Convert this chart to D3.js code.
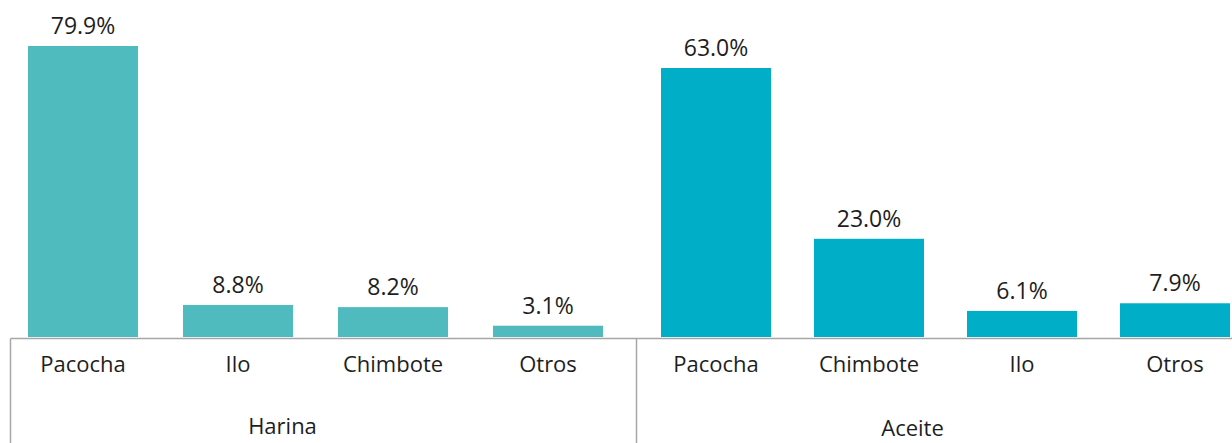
<!DOCTYPE html>
<html><head><meta charset="utf-8">
<script src="https://cdn.jsdelivr.net/npm/d3@7"></script>
<style>
html,body{margin:0;padding:0;background:#fff;}
text{font-family:"Open Sans",sans-serif;fill:#1e1e1e;}
</style></head>
<body>
<svg id="chart" width="1232" height="443"></svg>
<script>
// Data
const groups = ["Harina", "Aceite"];
const harinaCategories = ["Pacocha", "Ilo", "Chimbote", "Otros"];
const harinaValues = [79.9, 8.8, 8.2, 3.1];
const aceiteCategories = ["Pacocha", "Chimbote", "Ilo", "Otros"];
const aceiteValues = [63.0, 23.0, 6.1, 7.9];
const colors = ["#4FBBBE", "#00AFC7"];

const svg = d3.select("#chart");
const W = 1232, H = 443;
const baseline = 337;
const axisY = 338.5;

const panels = [
  {name: groups[0], cats: harinaCategories, vals: harinaValues, color: colors[0],
   range: [5.5, 625.5], pad: 0.29, top: 46, labelY: 434, labelShift: -33},
  {name: groups[1], cats: aceiteCategories, vals: aceiteValues, color: colors[1],
   range: [639.5, 1251.5], pad: 0.281, top: 68, labelY: 436, labelShift: -33}
];

panels.forEach(p => {
  const x = d3.scaleBand().domain(p.cats).range(p.range)
    .paddingInner(p.pad).paddingOuter(p.pad / 2);
  const y = d3.scaleLinear().domain([0, d3.max(p.vals)]).range([baseline, p.top]);
  const data = p.cats.map((c, i) => ({c, v: p.vals[i]}));
  const g = svg.append("g");
  g.selectAll("rect").data(data).join("rect")
    .attr("x", d => x(d.c)).attr("width", x.bandwidth())
    .attr("y", d => y(d.v)).attr("height", d => baseline - y(d.v))
    .attr("fill", p.color);
  g.selectAll("text.val").data(data).join("text").attr("class", "val")
    .attr("x", d => x(d.c) + x.bandwidth() / 2)
    .attr("y", d => y(d.v) - 12)
    .attr("text-anchor", "middle")
    .style("font-size", "23px")
    .text(d => d.v.toFixed(1) + "%");
  // category axis labels
  const ax = d3.axisBottom(x).tickSize(0).tickPadding(0);
  const axG = svg.append("g").attr("transform", `translate(0,${axisY})`).call(ax);
  axG.select(".domain").remove();
  axG.selectAll("text").attr("y", 33).attr("dy", null)
    .style("font-size", "22px").style("font-family", "'Open Sans',sans-serif").attr("fill", "#1e1e1e");
  const mid = (x(p.cats[0]) + x(p.cats[p.cats.length - 1]) + x.bandwidth()) / 2;
  svg.append("text").attr("x", mid + p.labelShift).attr("y", p.labelY)
    .attr("text-anchor", "middle").style("font-size", "22px").text(p.name);
});

// axis lines
svg.append("line").attr("x1", 10.5).attr("x2", W).attr("y1", axisY).attr("y2", axisY)
  .attr("stroke", "#a6a6a6").attr("stroke-width", 1.5);
[10.5, 636.5].forEach(xx => {
  svg.append("line").attr("x1", xx).attr("x2", xx).attr("y1", axisY).attr("y2", H)
    .attr("stroke", "#a6a6a6").attr("stroke-width", 1.5);
});
</script>
</body></html>
